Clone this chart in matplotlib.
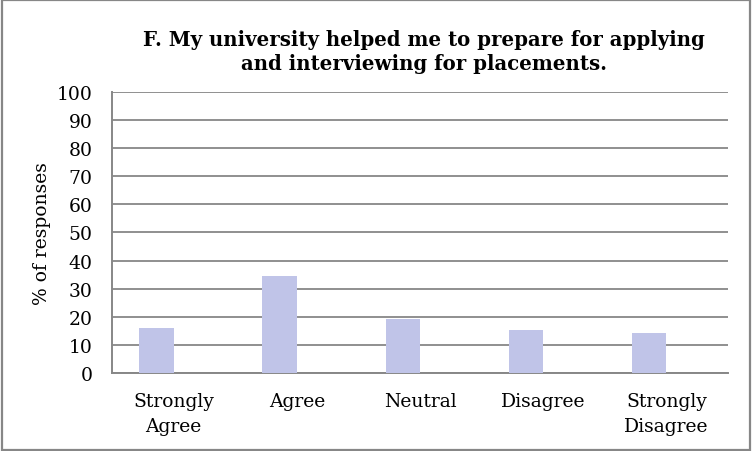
import numpy as np
import matplotlib.pyplot as plt
from matplotlib.patches import Rectangle

categories = ["Strongly\nAgree", "Agree", "Neutral", "Disagree", "Strongly\nDisagree"]
responses = [16.1, 34.5, 19.3, 15.4, 14.3]   # % of responses
yticks = [0, 10, 20, 30, 40, 50, 60, 70, 80, 90, 100]
title = "F. My university helped me to prepare for applying\nand interviewing for placements."

plt.rcParams['font.family'] = ['DejaVu Serif']

fig = plt.figure(figsize=(7.52, 4.52), dpi=100)
ax = fig.add_axes([0.149, 0.1726, 0.819, 0.6217])

x = np.arange(len(categories))
bw = 0.28
# second (empty) series slot sits right of each bar, like the excel original
ax.bar(x - bw / 2, responses, width=bw, color='#C0C4E8', zorder=3)

ax.set_xlim(-0.5, len(categories) - 0.5)
ax.set_ylim(0, 100)
ax.set_yticks(yticks)
ax.set_xticks(x)
ax.set_xticklabels(categories, fontsize=13.5, linespacing=1.45)
ax.tick_params(axis='both', length=0, labelsize=13.5)
ax.tick_params(axis='y', pad=14)
ax.tick_params(axis='x', pad=14)
ax.yaxis.grid(True, color='#878787', linewidth=1.3, zorder=0)
ax.set_ylabel('% of responses', fontsize=13.5, labelpad=4)

for s in ['top', 'right']:
    ax.spines[s].set_visible(False)
for s in ['left', 'bottom']:
    ax.spines[s].set_color('#878787')
    ax.spines[s].set_linewidth(1.4)

fig.text(0.564, 0.884, title, ha='center', va='center', fontsize=14.2,
         fontweight='bold', linespacing=1.25)

# outer chart border
fig.patches.append(Rectangle((0.002, 0.003), 0.996, 0.994, transform=fig.transFigure,
                             fill=False, edgecolor='#878787', linewidth=1.6))

plt.savefig('out.png', dpi=100)
